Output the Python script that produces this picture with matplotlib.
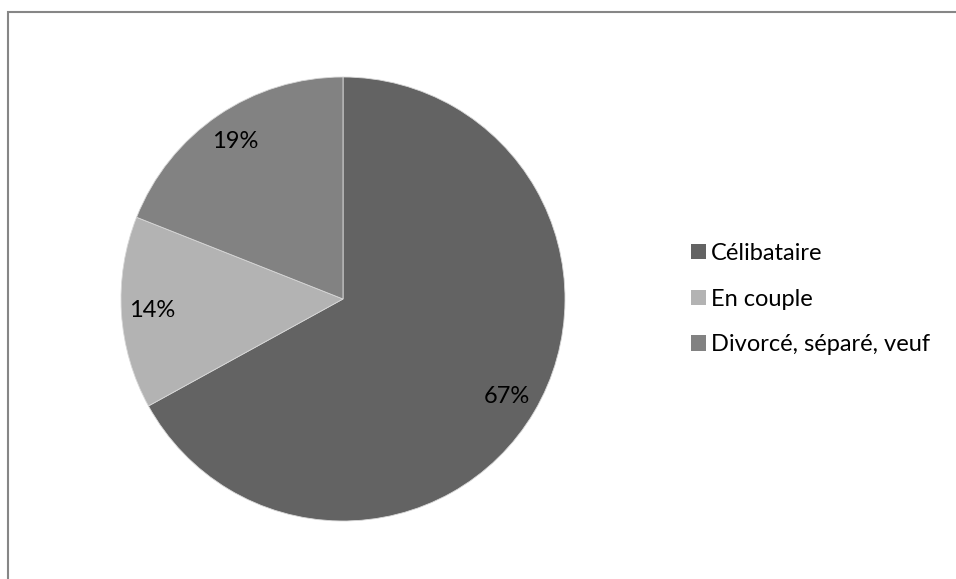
import matplotlib.pyplot as plt
from matplotlib.patches import Patch, Rectangle

categories = ["Célibataire", "En couple", "Divorcé, séparé, veuf"]
shares = [67, 14, 19]
colors = ["#636363", "#b3b3b3", "#828282"]

plt.rcParams['font.family'] = ['Lato', 'DejaVu Sans']

W, H = 956, 579
fig = plt.figure(figsize=(W / 100, H / 100), dpi=100)

# chart frame (runs off the right and bottom edge)
fig.patches.append(Rectangle((7.5 / W, -0.1), 1.2, 1 - 11.5 / H + 0.1,
                             transform=fig.transFigure, fill=False,
                             edgecolor="#868686", linewidth=1.5))

cx, cy, r = 343, 299, 222
ax = fig.add_axes([(cx - r) / W, (H - cy - r) / H, 2 * r / W, 2 * r / H])
wedges, texts, autotexts = ax.pie(
    shares, colors=colors, startangle=90, counterclock=False, radius=1,
    autopct="%d%%", pctdistance=0.86,
    wedgeprops=dict(edgecolor="#d8d8d8", linewidth=0.6),
    textprops=dict(fontsize=17, color="#000000"))
ax.set_xlim(-1, 1)
ax.set_ylim(-1, 1)
ax.set_aspect("equal")
ax.axis("off")

handles = [Patch(facecolor=c, edgecolor="none") for c in colors]
fig.legend(handles, categories, loc="center left",
           bbox_to_anchor=(670 / W, 1 - 299 / H), frameon=False,
           fontsize=17, handlelength=0.62, handleheight=0.62,
           handletextpad=0.2, labelspacing=1.05)

fig.savefig("out.png", dpi=100)
